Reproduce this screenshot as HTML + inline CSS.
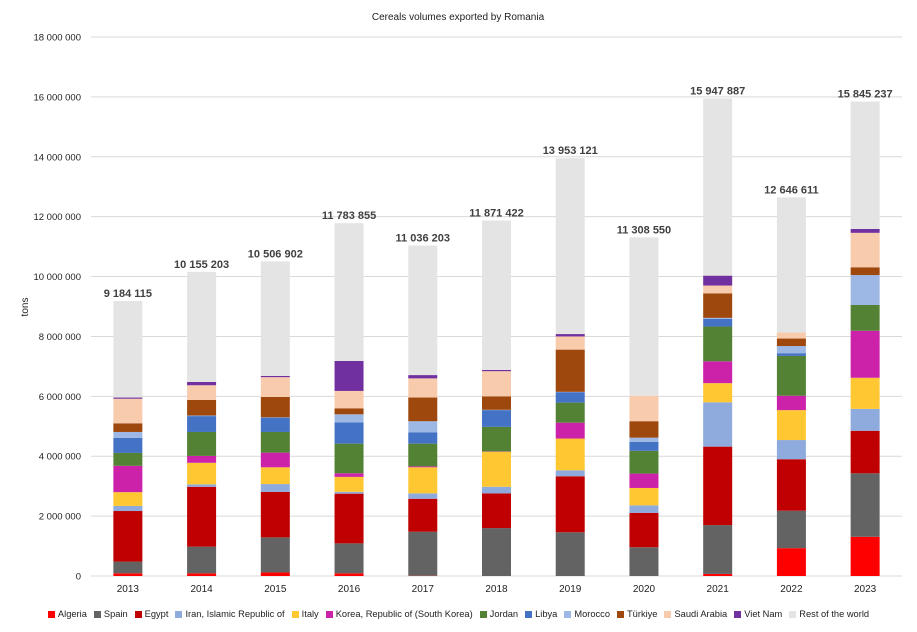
<!DOCTYPE html>
<html><head><meta charset="utf-8"><style>
body{margin:0;background:#fff;font-family:"Liberation Sans",sans-serif;}
#wrap{position:relative;width:917px;height:632px;overflow:hidden;}
#legend{position:absolute;left:0;width:917px;top:609px;display:flex;justify-content:center;gap:7px;font-size:9.3px;color:#222;}
.li{display:flex;align-items:center;gap:3px;white-space:nowrap}
.sw{width:7px;height:7px;display:inline-block}
</style></head><body>
<div id="wrap">
<svg id="chart" width="917" height="632"></svg>
<div id="legend"></div>
</div>
<script>
const years=["2013","2014","2015","2016","2017","2018","2019","2020","2021","2022","2023"];
const totals=[9184115,10155203,10506902,11783855,11036203,11871422,13953121,11308550,15947887,12646611,15845237];
const totalLabels=["9 184 115","10 155 203","10 506 902","11 783 855","11 036 203","11 871 422","13 953 121","11 308 550","15 947 887","12 646 611","15 845 237"];
const seriesNames=["Algeria","Spain","Egypt","Iran, Islamic Republic of","Italy","Korea, Republic of (South Korea)","Jordan","Libya","Morocco","Türkiye","Saudi Arabia","Viet Nam","Rest of the world"];
const seriesColors=["#ff0000","#636363","#c00000","#8faadc","#ffc832","#cc22aa","#548235","#4472c4","#9db8e4","#9e480e","#f8cbad","#7030a0","#e4e4e4"];
const algeria=[0.09,0.09,0.12,0.09,0.01,0,0,0,0.07,0.93,1.31];
const spain=[0.39,0.89,1.17,1.00,1.47,1.60,1.46,0.96,1.63,1.25,2.12];
const egypt=[1.69,2.00,1.52,1.66,1.10,1.16,1.87,1.15,2.62,1.72,1.42];
const iran=[0.17,0.08,0.26,0.06,0.18,0.22,0.20,0.25,1.48,0.64,0.73];
const italy=[0.46,0.72,0.56,0.50,0.87,1.17,1.06,0.58,0.64,1.00,1.04];
const korea=[0.88,0.23,0.49,0.12,0.03,0.01,0.53,0.48,0.73,0.48,1.57];
const jordan=[0.43,0.80,0.69,0.99,0.76,0.82,0.67,0.76,1.16,1.33,0.86];
const libya=[0.50,0.53,0.48,0.71,0.38,0.56,0.35,0.30,0.26,0.09,0];
const morocco=[0.20,0.02,0.01,0.27,0.37,0.01,0.01,0.14,0.03,0.24,1.00];
const turkiye=[0.29,0.52,0.68,0.20,0.79,0.45,1.41,0.55,0.82,0.25,0.26];
const saudi=[0.82,0.49,0.66,0.58,0.64,0.84,0.44,0.85,0.26,0.20,1.15];
const vietnam=[0.04,0.11,0.04,1.00,0.11,0.04,0.08,0,0.33,0,0.13];
const yTicks=[0,2000000,4000000,6000000,8000000,10000000,12000000,14000000,16000000,18000000];
const yTickLabels=["0","2 000 000","4 000 000","6 000 000","8 000 000","10 000 000","12 000 000","14 000 000","16 000 000","18 000 000"];

const NS="http://www.w3.org/2000/svg";
const svg=document.getElementById('chart');
const X0=91,X1=902,Y0=576,Y1=37,YMAX=18000000;
const band=(X1-X0)/years.length, BW=29;
const y=v=>Y0-(v/YMAX)*(Y0-Y1);
const xc=i=>X0+band*(i+0.5);
function mk(tag,attrs,txt){const e=document.createElementNS(NS,tag);for(const k in attrs)e.setAttribute(k,attrs[k]);if(txt!=null)e.textContent=txt;svg.appendChild(e);return e;}

let t=mk('text',{x:458,y:20,'text-anchor':'middle','font-size':10,fill:'#222'},'Cereals volumes exported by Romania');


t=mk('text',{x:0,y:0,transform:'translate(28,307) rotate(-90)','text-anchor':'middle','font-size':10,fill:'#222'},'tons');



yTicks.forEach((v,i)=>{
  const g=mk('line',{x1:X0,x2:X1,y1:y(v),y2:y(v),stroke:'#d9d9d9','stroke-width':1});
  
  
  const l=mk('text',{x:81,y:y(v)+3.5,'text-anchor':'end','font-size':9.5,fill:'#222'},yTickLabels[i]);
  
  
});

const series=[algeria,spain,egypt,iran,italy,korea,jordan,libya,morocco,turkiye,saudi,vietnam];
years.forEach((yr,i)=>{
  let cum=0;
  series.forEach((s,k)=>{
    const v=s[i]*1e6;
    if(v>0){
      const r=mk('rect',{x:xc(i)-BW/2,y:y(cum+v),width:BW,height:y(cum)-y(cum+v),fill:seriesColors[k]});
      
      
    }
    cum+=v;
  });
  const rest=Math.max(0,totals[i]-cum);
  const r=mk('rect',{x:xc(i)-BW/2,y:y(cum+rest),width:BW,height:y(cum)-y(cum+rest),fill:seriesColors[12]});
  
  
  const lb=mk('text',{x:xc(i),y:y(totals[i])-4,'text-anchor':'middle','font-size':11,'font-weight':'bold',fill:'#404040'},totalLabels[i]);
  
  
  const xl=mk('text',{x:xc(i),y:Y0+16,'text-anchor':'middle','font-size':10,fill:'#222'},yr);
  
  
});

const leg=document.getElementById('legend');
seriesNames.forEach((n,k)=>{
  const d=document.createElement('div');d.className='li';
  
  
  d.innerHTML='<span class="sw" style="background:'+seriesColors[k]+'"></span>'+n;
  leg.appendChild(d);
});
</script>
</body></html>
